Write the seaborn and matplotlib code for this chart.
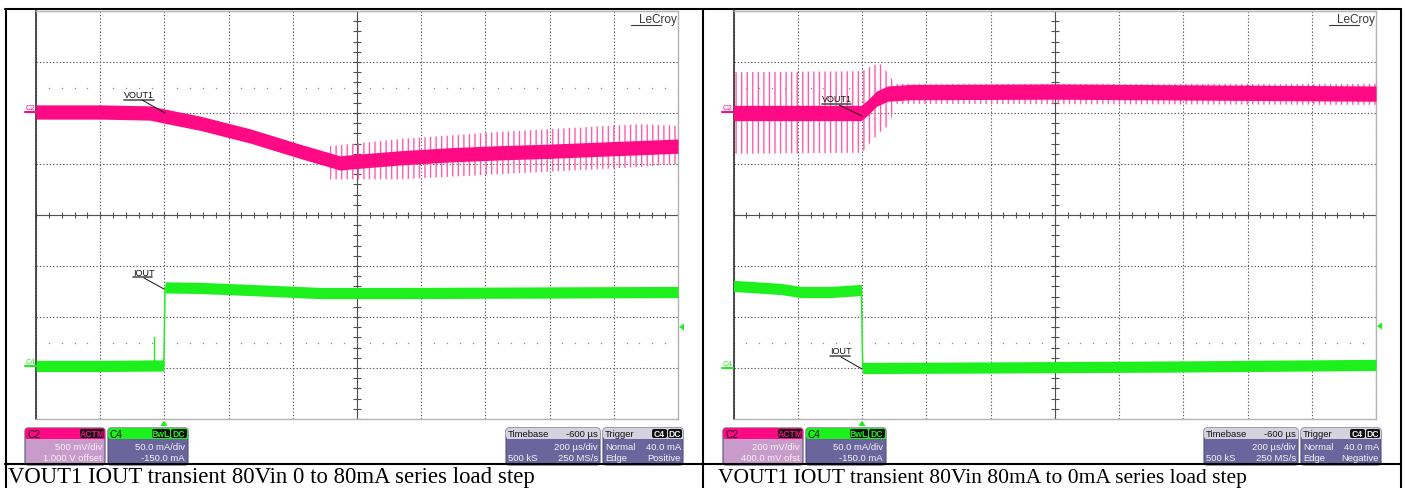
import numpy as np
import pandas as pd
import matplotlib
matplotlib.use("Agg")
import matplotlib.pyplot as plt
import seaborn as sns
from matplotlib.patches import FancyBboxPatch, Rectangle, Polygon

sns.set_theme(style="white")
plt.rcParams["font.family"] = ["Liberation Sans", "DejaVu Sans"]
plt.rcParams["hatch.linewidth"] = 1.0

# ---------------- data (time in us, trigger at 0; vertical in divisions) ----------------
# Left capture: 0 -> 80 mA load step
L_V_t = [-400, -200, -45, 0, 111, 267, 422, 547, 578, 734, 890, 1045, 1201, 1357, 1600]
L_V_y = [2.02, 2.02, 2.00, 1.94, 1.80, 1.55, 1.25, 1.02, 1.04, 1.12, 1.18, 1.22, 1.25, 1.29, 1.35]
L_V_hw = 0.14
L_Vspk_t = [516, 734, 1045, 1480, 1600]
L_Vspk_hi = [1.35, 1.49, 1.63, 1.78, 1.75]
L_Vspk_lo = [0.70, 0.70, 0.80, 0.94, 1.00]

L_I_t = [-400, -200, -2, 2, 111, 267, 485, 734, 1600]
L_I_y = [-2.96, -2.96, -2.95, -1.42, -1.43, -1.47, -1.53, -1.53, -1.51]
L_I_hw = 0.11
L_Iglitch_t = [-32, -32]
L_Iglitch_y = [-2.90, -2.39]

# Right capture: 80 mA -> 0 mA load step
R_V_t = [-400, -200, -2, 20, 45, 80, 150, 600, 1600]
R_V_y = [2.00, 2.00, 2.00, 2.12, 2.28, 2.38, 2.41, 2.42, 2.38]
R_V_hw = 0.15
R_Vspk_t = [-400, 0, 10, 35, 57, 88, 100, 1600]
R_Vspk_hi = [2.80, 2.82, 2.85, 2.94, 2.96, 2.73, 2.57, 2.57]
R_Vspk_lo = [1.20, 1.22, 1.29, 1.49, 1.63, 1.78, 2.18, 2.16]

R_I_t = [-400, -253, -191, -98, -2, 2, 400, 1000, 1600]
R_I_y = [-1.39, -1.45, -1.51, -1.51, -1.47, -3.00, -2.99, -2.97, -2.94]
R_I_hw = 0.11

captions = ["VOUT1 IOUT transient 80Vin 0 to 80mA series load step",
            "VOUT1 IOUT transient 80Vin 80mA to 0mA series load step"]
c2_text = [("500 mV/div", "1.000 V offset"), ("200 mV/div", "400.0 mV ofst")]
c4_text = ("50.0 mA/div", "-150.0 mA")
trig_edge = ["Positive", "Negative"]

PINK = "#FF0A84"
PINK_L = "#FF5CAD"
GREEN = "#1EF01E"
PURPLE = "#6B659E"
C2BODY = "#C99BCB"
HDR = "#D4D2DC"

W, H = 1405, 489
fig = plt.figure(figsize=(W / 100, H / 100), dpi=100)
fig.patch.set_facecolor("white")


def px_axes(x0, y0, x1, y1):
    return fig.add_axes([x0 / W, 1 - y1 / H, (x1 - x0) / W, (y1 - y0) / H])


def scope(ax, V, I):
    ax.set_facecolor("white")
    ax.set_xlim(-400, 1600)
    ax.set_ylim(-4, 4)
    ax.set_xticks(np.arange(-400, 1601, 200))
    ax.set_yticks(np.arange(-4, 5, 1))
    ax.tick_params(length=0, labelbottom=False, labelleft=False)
    ax.grid(True, color="#5a5a5a", linestyle=(0, (1.2, 1.8)), linewidth=0.8)
    for s in ["top", "right", "bottom"]:
        ax.spines[s].set_color("#b4b4b4")
        ax.spines[s].set_linewidth(1)
    ax.spines["left"].set_color("#303030")
    ax.spines["left"].set_linewidth(1.2)
    # centre cross with sub-division ticks
    ax.axhline(0, color="#505050", lw=0.8)
    ax.axvline(600, color="#505050", lw=0.8)
    tt = np.arange(-400, 1601, 40)
    ax.vlines(tt, -0.06, 0.06, color="#505050", lw=0.8)
    yy = np.arange(-4, 4.01, 0.2)
    ax.hlines(yy, 588, 612, color="#505050", lw=0.8)
    # dotted rows
    for r in (2.5, -2.5):
        ax.plot(tt, np.full_like(tt, r, dtype=float), ls="none", marker="s",
                ms=0.9, color="#8a8a8a", mew=0)
    # traces
    (vt, vy, vhw, st, shi, slo), (it, iy, ihw) = V, I
    ax.fill_between(st, slo, shi, facecolor="none", edgecolor=PINK_L, hatch="|||",
                    linewidth=0, zorder=3)
    vt, vy = np.array(vt), np.array(vy)
    ax.fill_between(vt, vy - vhw, vy + vhw, color=PINK, lw=0, zorder=4)
    sns.lineplot(x=vt, y=vy, ax=ax, color=PINK, lw=1, estimator=None, sort=False, zorder=4)
    it, iy = np.array(it), np.array(iy)
    ax.fill_between(it, iy - ihw, iy + ihw, color=GREEN, lw=0, zorder=4)
    sns.lineplot(x=it, y=iy, ax=ax, color=GREEN, lw=1, estimator=None, sort=False, zorder=4)


axL = px_axes(36, 12, 678, 420)
scope(axL, (L_V_t, L_V_y, L_V_hw, L_Vspk_t, L_Vspk_hi, L_Vspk_lo), (L_I_t, L_I_y, L_I_hw))
sns.lineplot(x=L_Iglitch_t, y=L_Iglitch_y, ax=axL, color=GREEN, lw=1, estimator=None,
             sort=False, zorder=4)
axR = px_axes(733.5, 12, 1376, 420)
scope(axR, (R_V_t, R_V_y, R_V_hw, R_Vspk_t, R_Vspk_hi, R_Vspk_lo), (R_I_t, R_I_y, R_I_hw))

# ---------------- overlay in pixel coordinates ----------------
ov = fig.add_axes([0, 0, 1, 1], zorder=10)
ov.set_xlim(0, W)
ov.set_ylim(H, 0)
ov.axis("off")
ov.patch.set_alpha(0)

FS = 6.8


def rbox(x0, y0, x1, y1, fc, ec="none", r=3, z=2):
    ov.add_patch(FancyBboxPatch((x0, y0), x1 - x0, y1 - y0,
                                boxstyle=f"round,pad=0,rounding_size={r}",
                                fc=fc, ec=ec, lw=0.8, zorder=z))


def badge(x0, x1, txt, col, yc=434.5):
    rbox(x0, yc - 4.5, x1, yc + 4.5, "#111111", r=2, z=4)
    ov.text((x0 + x1) / 2, yc + 0.3, txt, color=col, fontsize=FS - 0.6, ha="center",
            va="center", zorder=5, fontweight="bold")


def chan_box(x0, x1, name, hdr, body, lines, badges, col):
    rbox(x0, 429, x1, 466, body, ec="#54507a")
    rbox(x0, 429, x1, 440, hdr, r=3, z=3)
    ov.add_patch(Rectangle((x0 + 0.5, 435), x1 - x0 - 1, 5, fc=hdr, ec="none", zorder=3))
    ov.text(x0 + 2, 434.5, name, fontsize=FS + 0.4, color="#111111", va="center", zorder=5)
    for (bx0, bx1, bt) in badges:
        badge(bx0, bx1, bt, col)
    ov.text(x1 - 3, 447, lines[0], fontsize=FS, color="#f4f4f4", ha="right", va="center", zorder=5)
    ov.text(x1 - 3, 458.5, lines[1], fontsize=FS, color="#f4f4f4", ha="right", va="center", zorder=5)


def info_boxes(off, i):
    chan_box(25 + off, 105 + off, "C2", PINK, C2BODY, c2_text[i],
             [(80 + off, 104 + off, "ACTM")], PINK)
    chan_box(108 + off, 188 + off, "C4", GREEN, PURPLE, c4_text,
             [(152 + off, 170 + off, "BwL"), (171 + off, 187 + off, "DC")], GREEN)
    # timebase
    tx0, tx1 = 506 + off, 600 + off
    rbox(tx0, 429, tx1, 466, PURPLE, ec="#54507a")
    rbox(tx0, 429, tx1, 440, HDR, z=3)
    ov.add_patch(Rectangle((tx0 + 0.5, 435), tx1 - tx0 - 1, 5, fc=HDR, ec="none", zorder=3))
    ov.text(tx0 + 2, 434.5, "Timebase", fontsize=FS, color="#111111", va="center", zorder=5)
    ov.text(tx1 - 2, 434.5, "-600 µs", fontsize=FS, color="#111111", ha="right", va="center", zorder=5)
    ov.text(tx1 - 2, 447, "200 µs/div", fontsize=FS, color="#f4f4f4", ha="right", va="center", zorder=5)
    ov.text(tx0 + 2, 458.5, "500 kS", fontsize=FS, color="#f4f4f4", va="center", zorder=5)
    ov.text(tx1 - 2, 458.5, "250 MS/s", fontsize=FS, color="#f4f4f4", ha="right", va="center", zorder=5)
    # trigger
    gx0, gx1 = 603 + off, 683 + off
    rbox(gx0, 429, gx1, 466, PURPLE, ec="#54507a")
    rbox(gx0, 429, gx1, 440, HDR, z=3)
    ov.add_patch(Rectangle((gx0 + 0.5, 435), gx1 - gx0 - 1, 5, fc=HDR, ec="none", zorder=3))
    ov.text(gx0 + 2, 434.5, "Trigger", fontsize=FS, color="#111111", va="center", zorder=5)
    badge(652 + off, 667 + off, "C4", "#f4f4f4")
    badge(668 + off, 682 + off, "DC", "#f4f4f4")
    ov.text(gx0 + 2, 447, "Normal", fontsize=FS, color="#f4f4f4", va="center", zorder=5)
    ov.text(gx1 - 2, 447, "40.0 mA", fontsize=FS, color="#f4f4f4", ha="right", va="center", zorder=5)
    ov.text(gx0 + 2, 458.5, "Edge", fontsize=FS, color="#f4f4f4", va="center", zorder=5)
    ov.text(gx1 - 2, 458.5, trig_edge[i], fontsize=FS, color="#f4f4f4", ha="right", va="center", zorder=5)


info_boxes(0, 0)
info_boxes(698, 1)


def label(txt, x0, x1, yc, lx0, ly0, lx1, ly1):
    ov.text(x0, yc, txt, fontsize=6.5, color="#111111", va="center", zorder=6)
    ov.plot([x0, x1], [yc + 4.5, yc + 4.5], color="#555555", lw=1.2, zorder=6)
    ov.plot([lx0, lx1], [ly0, ly1], color="#111111", lw=0.7, zorder=6)


label("VOUT1", 124, 154, 96, 142, 101, 165, 114)
label("IOUT", 133, 152, 273, 144, 279, 164, 290)
label("VOUT1", 822, 851, 100, 839, 106, 862, 117)
label("IOUT", 830, 850, 352, 841, 358, 862, 370)

# channel markers
for xo, yv, yi in [(0, 113, 367), (697, 113, 369)]:
    ov.text(26 + xo, yv - 5, "C2", fontsize=5.5, color=PINK, va="center", zorder=6)
    ov.plot([25 + xo, 36 + xo], [yv, yv], color=PINK, lw=1.5, zorder=6)
    ov.text(26 + xo, yi - 5, "C4", fontsize=5.5, color=GREEN, va="center", zorder=6)
    ov.plot([25 + xo, 36 + xo], [yi, yi], color=GREEN, lw=1.5, zorder=6)

# trigger markers
for xc in (164, 862):
    ov.add_patch(Polygon([[xc - 3.5, 427], [xc + 3.5, 427], [xc, 421.5]], fc=GREEN, ec="none", zorder=6))
for xc, yc in ((680, 328), (1378, 327)):
    ov.add_patch(Polygon([[xc + 4, yc - 3.5], [xc + 4, yc + 3.5], [xc - 1, yc]], fc=GREEN, ec="none", zorder=6))

# LeCroy logos
for xr in (677, 1375):
    ov.text(xr, 20, "LeCroy", fontsize=8.5, color="#3a3a3a", ha="right", va="center", zorder=6)
    ov.plot([xr - 46, xr - 16], [26, 26], color="#3a3a3a", lw=0.8, zorder=6)

# table borders
bc = "#000000"
blw = 1.5
ov.plot([5.5, 5.5], [9.5, H], color=bc, lw=blw, zorder=7)
ov.plot([1400.5, 1400.5], [9.5, H], color=bc, lw=blw, zorder=7)
ov.plot([5, 1401], [9.5, 9.5], color=bc, lw=blw, zorder=7)
ov.plot([702.5, 702.5], [9.5, H], color=bc, lw=blw, zorder=7)
ov.plot([5, 1401], [464.5, 464.5], color=bc, lw=blw, zorder=7)

# captions
for x, txt, fsz in ((8, captions[0], 16.4), (718, captions[1], 15.5)):
    ov.text(x, 478, txt, fontsize=fsz, family=["Liberation Serif", "DejaVu Serif"],
            color="#000000", va="center", ha="left", zorder=7)

fig.savefig("out.png", dpi=100, facecolor="white")
